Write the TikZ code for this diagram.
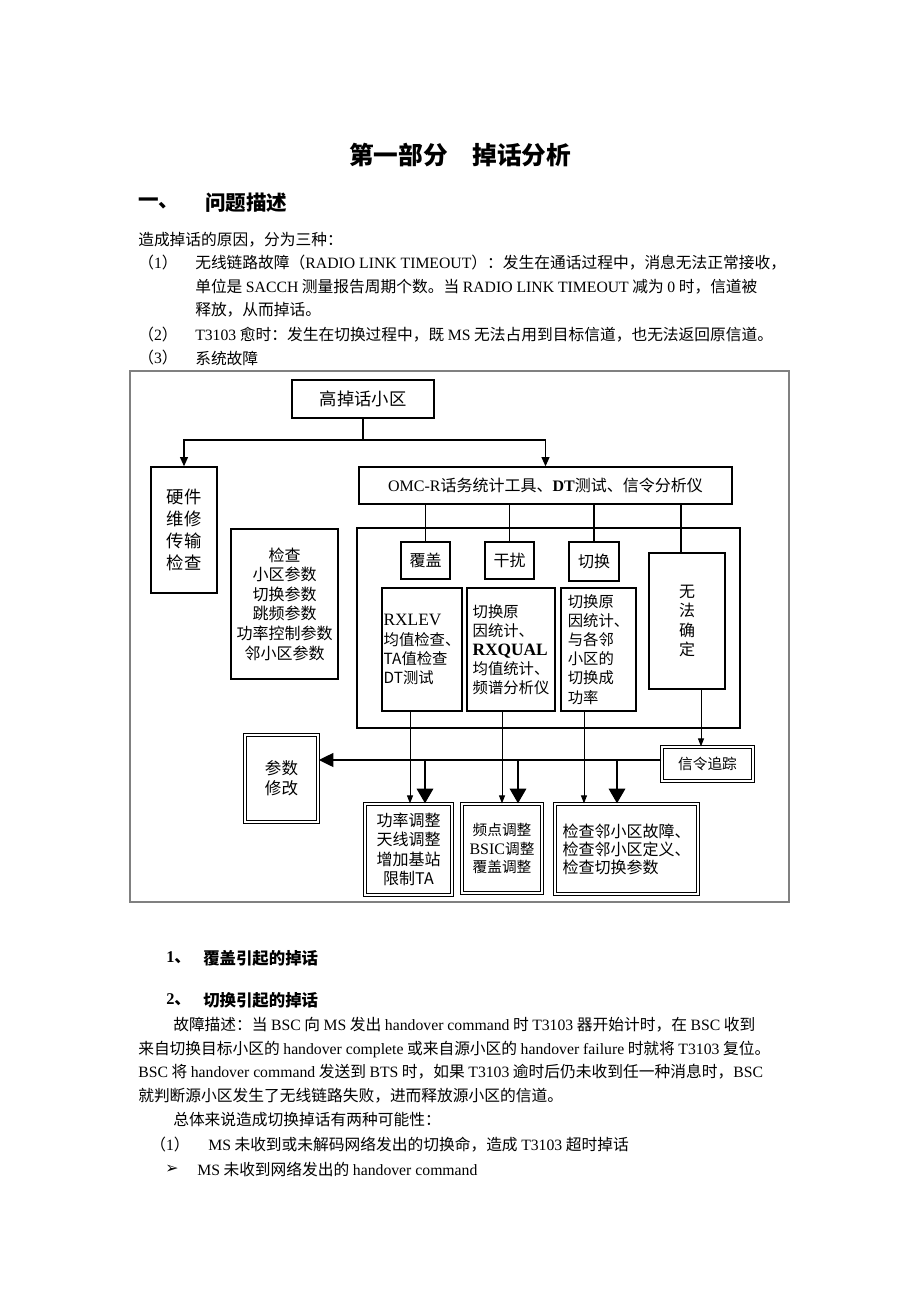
\documentclass[tikz,border=0pt]{standalone}
\usepackage{fontspec}
\setmainfont{Noto Sans CJK SC}
\newfontfamily\en{Liberation Serif}
\newfontfamily\sym{DejaVu Sans}
\usepackage{tikz}
\usetikzlibrary{arrows.meta}

\begin{document}
\begin{tikzpicture}[x=0.75pt, y=-0.75pt,
    box/.style={draw, line width=1pt, inner sep=0pt, align=center,
      font=\fontsize{12}{14.7}\selectfont},
    dbox/.style={box, double, double distance=1.5pt, line width=0.9pt},
    small/.style={font=\fontsize{11.5}{14.3}\selectfont},
    txt/.style={anchor=west, inner sep=0pt, font=\fontsize{11.8}{14}\selectfont},
    head/.style={anchor=west, inner sep=0pt, font=\fontsize{12.3}{14}\selectfont\bfseries},
    line/.style={line width=1pt},
    tip/.style={line width=1pt, -{Triangle[length=7pt,width=6pt]}},
    thinarr/.style={line width=0.7pt, -{Triangle[length=6pt,width=4.5pt]}},
    fat/.style={line width=2.2pt, -{Triangle[length=11pt,width=12pt]}},
    bus/.style={line width=2.2pt, -{Triangle[length=11pt,width=10pt]}}]
  \fill[white] (0,0) rectangle (920,1302);
  \useasboundingbox (0,0) rectangle (920,1302);

  % page text above the figure
  \node[inner sep=0pt, font=\fontsize{18.5}{20}\selectfont\bfseries] (title) at (460,155) {第一部分　掉话分析};
  \node[anchor=west, inner sep=0pt, font=\fontsize{15.4}{17}\selectfont\bfseries] (h1) at (138,203) {一、};
  \node[anchor=west, inner sep=0pt, font=\fontsize{15.4}{17}\selectfont\bfseries] (h1t) at (205,203) {问题描述};
  \node[txt] (p1) at (138,240) {造成掉话的原因，分为三种：};
  \node[txt] (n1) at (138,263) {（{\en 1}）};
  \node[txt] (p2) at (195,263) {无线链路故障（{\en RADIO LINK TIMEOUT}）：发生在通话过程中，消息无法正常接收，};
  \node[txt] (p3) at (195,287) {单位是 {\en SACCH} 测量报告周期个数。当 {\en RADIO LINK TIMEOUT} 减为 {\en 0} 时，信道被};
  \node[txt] (p4) at (195,310) {释放，从而掉话。};
  \node[txt] (n2) at (138,335) {（{\en 2}）};
  \node[txt] (p5) at (195,335) {{\en T3103} 愈时：发生在切换过程中，既 {\en MS} 无法占用到目标信道，也无法返回原信道。};
  \node[txt] (n3) at (138,358) {（{\en 3}）};
  \node[txt] (p6) at (195,358) {系统故障};

  % figure
  \draw[gray, line width=0.8pt] (130,371) rectangle (789,902);
  \node[box, minimum width=106.5pt, minimum height=28.5pt, font=\fontsize{13}{15}\selectfont] (top) at (363,399) {高掉话小区};
  \node[box, minimum width=49.5pt, minimum height=94.5pt, font=\fontsize{13}{16.3}\selectfont] (hw) at (184,530) {硬件\\维修\\传输\\检查};
  \node[box, minimum width=279.75pt, minimum height=27.75pt] (omc) at (545.5,485.5) {{\en OMC-R}话务统计工具、{\en\bfseries DT}测试、信令分析仪};
  \node[box, minimum width=80.25pt, minimum height=112.5pt] (chk) at (284.5,604) {检查\\小区参数\\切换参数\\跳频参数\\功率控制参数\\邻小区参数};
  \node[box, minimum width=287.25pt, minimum height=150pt] (grp) at (548.5,628) {};
  \node[box, minimum width=36.75pt, minimum height=27.75pt] (cov) at (425.5,560.5) {覆盖};
  \node[box, minimum width=36.75pt, minimum height=27.75pt] (itf) at (509.5,560.5) {干扰};
  \node[box, minimum width=37.5pt, minimum height=29.25pt] (hov) at (594,561.5) {切换};
  \node[box, minimum width=57pt, minimum height=102pt] (unk) at (687,621) {无\\法\\确\\定};
  \node[box, small, align=left, minimum width=60pt, minimum height=92.25pt] (lev) at (422,649.5) {{\en\fontsize{13}{14.3}\selectfont RXLEV}\\均值检查、\\TA值检查\\DT测试};
  \node[box, small, align=left, minimum width=66pt, minimum height=92.25pt] (ist) at (511,649.5) {切换原\\因统计、\\{\en\bfseries\fontsize{13}{14.3}\selectfont RXQUAL}\\均值统计、\\频谱分析仪};
  \node[box, small, align=left, minimum width=56.25pt, minimum height=92.25pt] (hst) at (598.5,649.5) {切换原\\因统计、\\与各邻\\小区的\\切换成\\功率};
  \node[dbox, minimum width=54.75pt, minimum height=65.25pt, font=\fontsize{12.4}{15}\selectfont] (pmod) at (281.5,778.5) {参数\\修改};
  \node[dbox, minimum width=68.25pt, minimum height=25.5pt, font=\fontsize{11}{13}\selectfont] (trc) at (707.5,764) {信令追踪};
  \node[dbox, minimum width=65.25pt, minimum height=68.25pt, font=\fontsize{12}{14.5}\selectfont] (pwr) at (408.5,849.5) {功率调整\\天线调整\\增加基站\\限制TA};
  \node[dbox, minimum width=60pt, minimum height=66.75pt, font=\fontsize{11}{14}\selectfont] (frq) at (502,848.5) {频点调整\\{\en\fontsize{12}{14}\selectfont BSIC}调整\\覆盖调整};
  \node[dbox, align=left, minimum width=107.25pt, minimum height=67.5pt, font=\fontsize{12}{13.5}\selectfont] (nbr) at (626.5,849) {检查邻小区故障、\\检查邻小区定义、\\检查切换参数};

  \coordinate (split) at (363,440);
  \draw[line] (top.south) -- (split);
  \draw[tip] (split) -| (hw.north);
  \draw[tip] (split) -| (omc.north);
  \foreach \b in {cov, itf, hov}
    \draw[line] (omc.south -| \b.north) -- (\b.north);
  \draw[line] ([xshift=-4.5pt]unk.north |- omc.south) -- ([xshift=-4.5pt]unk.north);

  \draw[thinarr] ([xshift=-9pt]lev.south) -- ([xshift=-9pt]lev.south |- pwr.north);
  \draw[thinarr] ([xshift=-6.75pt]ist.south) -- ([xshift=-6.75pt]ist.south |- frq.north);
  \draw[thinarr] ([xshift=-10.9pt]hst.south) -- ([xshift=-10.9pt]hst.south |- nbr.north);
  \draw[thinarr] ([xshift=10.5pt]unk.south) -- ([xshift=10.5pt]unk.south |- trc.north);

  \coordinate (busR) at ([yshift=3pt]trc.west);
  \draw[bus] (busR) -- (busR -| pmod.east);
  \coordinate (d1) at (425,760);
  \coordinate (d2) at (518,760);
  \coordinate (d3) at (617,760);
  \foreach \d/\n in {d1/pwr, d2/frq, d3/nbr}
    \draw[fat] (\d) -- (\d |- \n.north);

  % page text below the figure
  \node[head] (s1n) at (166,958) {{\en\bfseries 1}、};
  \node[head] (s1t) at (203,958) {覆盖引起的掉话};
  \node[head] (s2n) at (166,1000) {{\en\bfseries 2}、};
  \node[head] (s2t) at (203,1000) {切换引起的掉话};
  \node[txt] (q1) at (173,1025) {故障描述：当 {\en BSC} 向 {\en MS} 发出 {\en handover command} 时 {\en T3103} 器开始计时，在 {\en BSC} 收到};
  \node[txt] (q2) at (138,1049) {来自切换目标小区的 {\en handover complete} 或来自源小区的 {\en handover failure} 时就将 {\en T3103} 复位。};
  \node[txt] (q3) at (138,1072) {{\en BSC} 将 {\en handover command} 发送到 {\en BTS} 时，如果 {\en T3103} 逾时后仍未收到任一种消息时，{\en BSC}};
  \node[txt] (q4) at (138,1096) {就判断源小区发生了无线链路失败，进而释放源小区的信道。};
  \node[txt] (q5) at (173,1120) {总体来说造成切换掉话有两种可能性：};
  \node[txt] (n4) at (150,1145) {（{\en 1}）};
  \node[txt] (q6) at (208,1145) {{\en MS} 未收到或未解码网络发出的切换命，造成 {\en T3103} 超时掉话};
  \node[txt] (bl) at (165,1169) {{\sym ➢}};
  \node[txt] (q7) at (197,1169) {{\en MS} 未收到网络发出的 {\en handover command}};
\end{tikzpicture}
\end{document}
